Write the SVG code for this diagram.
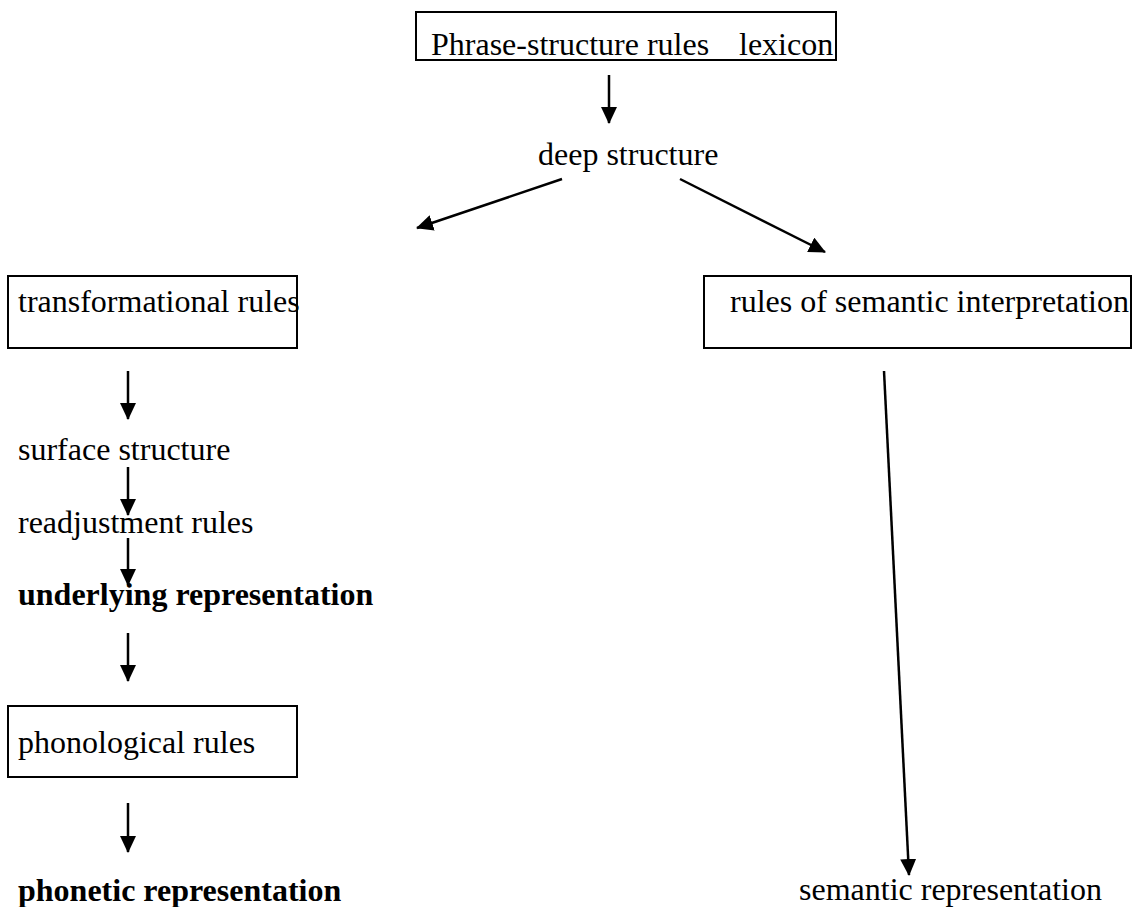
<svg xmlns="http://www.w3.org/2000/svg" width="1132" height="907" viewBox="0 0 1132 907">
<style>
text{font-family:"Liberation Serif","Times New Roman",serif;font-size:32px;fill:#000}
.b{font-weight:bold}
.box{fill:none;stroke:#000;stroke-width:2}
.c line{stroke:#000;stroke-width:2.5;marker-end:url(#ah)}
</style>
<defs>
<marker id="ah" markerUnits="userSpaceOnUse" markerWidth="17" markerHeight="16" refX="16" refY="8" orient="auto">
<path d="M0,0 L17,8 L0,16 Z" fill="#000"/>
</marker>
</defs>
<rect width="1132" height="907" fill="#fff"/>
<g id="psr"><rect class="box" x="416" y="12" width="420" height="48"/><text x="431" y="55">Phrase-structure rules<tspan x="739">lexicon</tspan></text></g>
<g id="deep"><text x="538" y="165">deep structure</text></g>
<g id="trans"><rect class="box" x="8" y="276" width="289" height="72"/><text x="18" y="312">transformational rules</text></g>
<g id="sem-rules"><rect class="box" x="704" y="276" width="427" height="72"/><text x="730" y="312">rules of semantic interpretation</text></g>
<g id="surface"><text x="18" y="460">surface structure</text></g>
<g id="readj"><text x="18" y="533">readjustment rules</text></g>
<g id="underlying"><text class="b" x="18" y="605">underlying representation</text></g>
<g id="phono"><rect class="box" x="8" y="706" width="289" height="71"/><text x="18" y="753">phonological rules</text></g>
<g id="phonetic"><text class="b" x="18" y="901">phonetic representation</text></g>
<g id="semrep"><text x="799" y="900">semantic representation</text></g>
<g id="connectors" class="c">
<line x1="609" y1="75" x2="609" y2="123"/>
<line x1="562" y1="179" x2="417" y2="228"/>
<line x1="680" y1="179" x2="825" y2="252"/>
<line x1="128" y1="371" x2="128" y2="419"/>
<line x1="128" y1="467" x2="128" y2="515"/>
<line x1="128" y1="538" x2="128" y2="585"/>
<line x1="128" y1="633" x2="128" y2="681"/>
<line x1="128" y1="803" x2="128" y2="852"/>
<line x1="884" y1="371" x2="909" y2="875"/>
</g>
</svg>
